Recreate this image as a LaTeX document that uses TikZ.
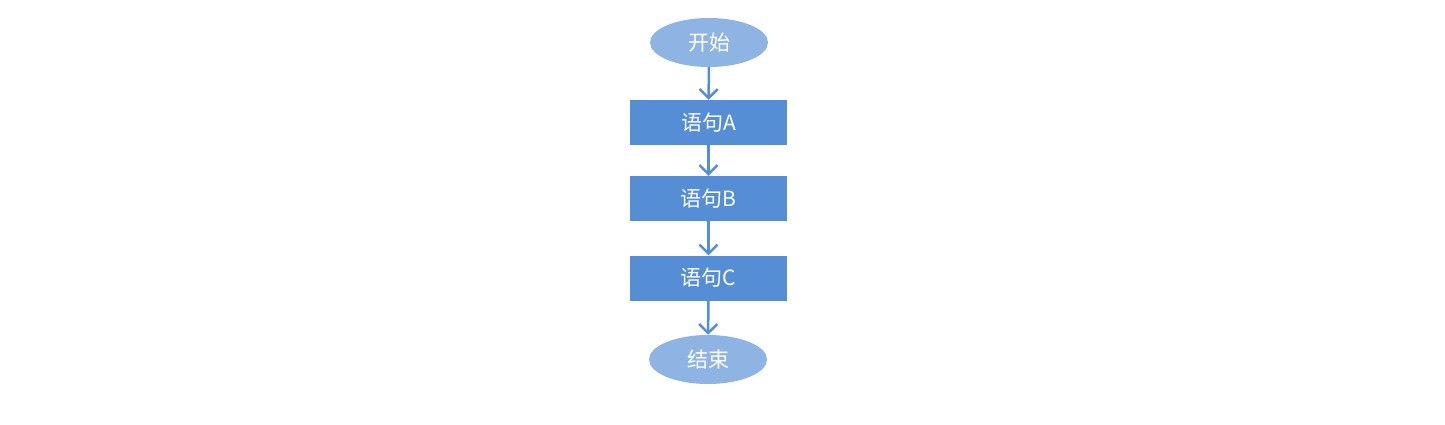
\documentclass[tikz,border=0pt]{standalone}
\usepackage{fontspec}
\newfontfamily\cjk{Noto Sans CJK SC}
\usepackage{tikz}
\usetikzlibrary{shapes, arrows.meta, positioning, calc}
\definecolor{termfill}{HTML}{8EB4E3}
\definecolor{stmtfill}{HTML}{558ED5}
\definecolor{flowline}{HTML}{558ED5}

\begin{document}
\begin{tikzpicture}[x=1pt, y=1pt,
    font=\cjk\fontsize{21}{24}\selectfont,
    term/.style={ellipse, fill=termfill, text=white, minimum width=118pt, minimum height=49pt, inner sep=0pt},
    stmt/.style={rectangle, fill=stmtfill, text=white, minimum width=157pt, minimum height=45pt, inner sep=0pt},
    flow/.style={-{Straight Barb[length=9pt, width=18pt, line width=2.5pt]}, draw=flowline, line width=2.5pt}]
  \useasboundingbox (0, 0) rectangle (1445, 424);

  % Nodes
  \node[term] (start) at (709, 381.5) {开始};
  \node[stmt] (stA) at (708.5, 301.5) {语句A};
  \node[stmt] (stB) at (708.5, 225.5) {语句B};
  \node[stmt] (stC) at (708.5, 146) {语句C};
  \node[term] (stop) at (708, 64.5) {结束};

  % Flow
  \draw[flow] (start) -- (stA);
  \draw[flow] (stA) -- (stB);
  \draw[flow] (stB) -- (stC);
  \draw[flow] (stC) -- (stop);
\end{tikzpicture}
\end{document}
